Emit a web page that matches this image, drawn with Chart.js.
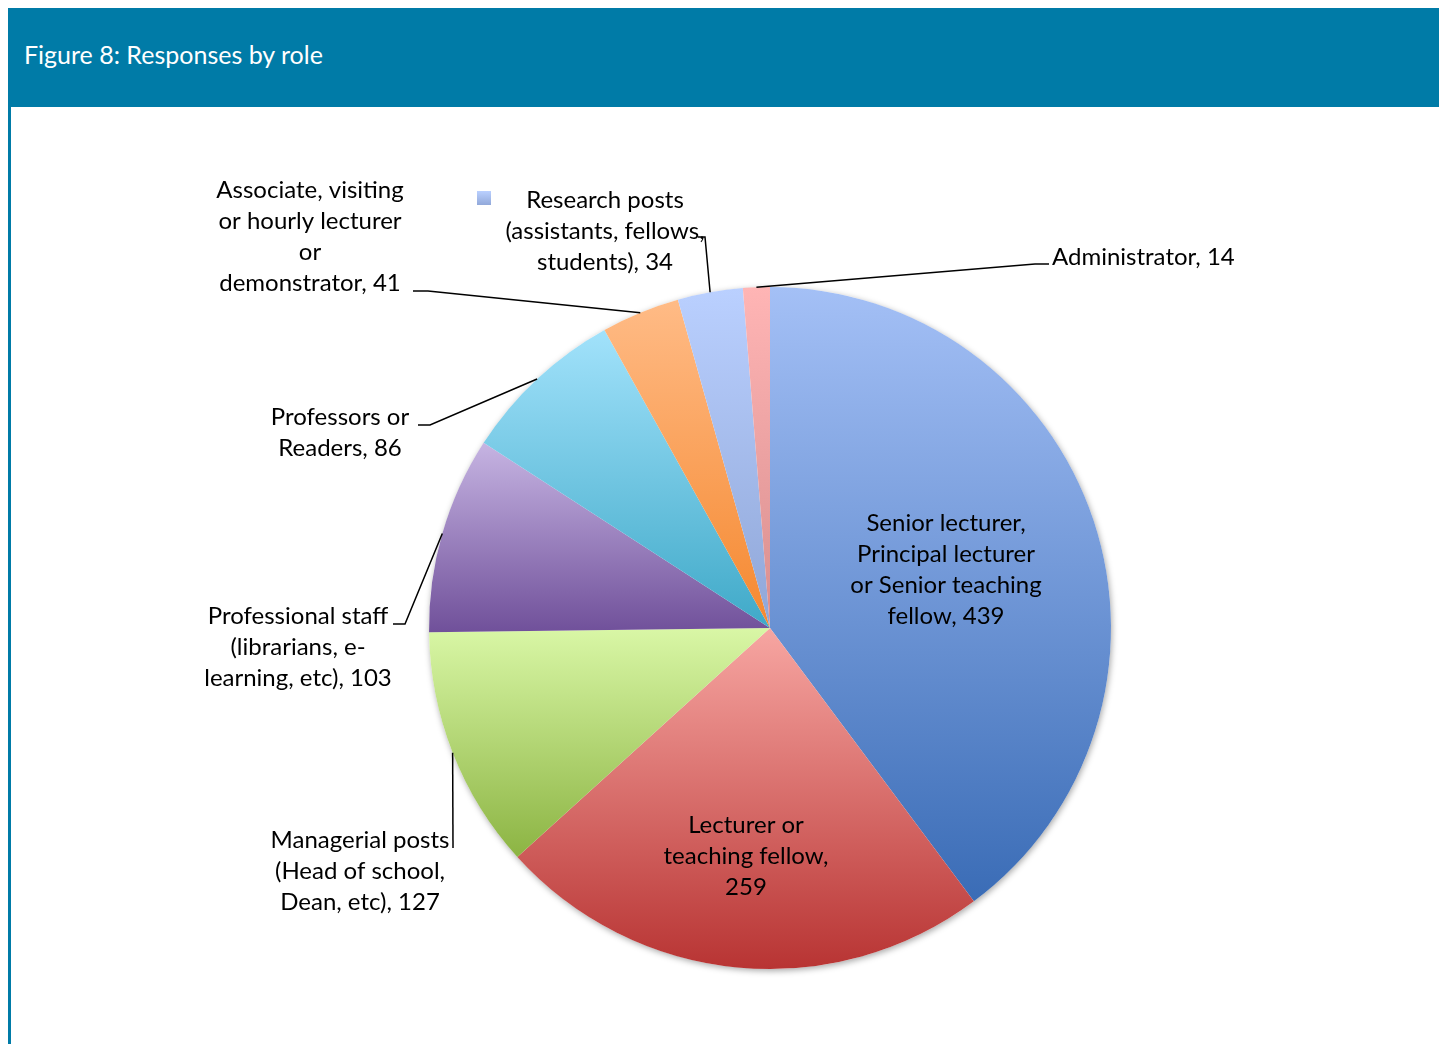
<!DOCTYPE html>
<html>
<head>
<meta charset="utf-8">
<script src="https://cdn.jsdelivr.net/npm/chart.js@4.4.1/dist/chart.umd.min.js"></script>
<style>
  body { margin: 0; background: #fff; width: 1439px; height: 1044px; overflow: hidden; position: relative; }
  #header { position: absolute; left: 8px; top: 8px; width: 1431px; height: 99px; background: #007ba7; }
  #header span { position: absolute; left: 16px; top: 31px; color: #fff; font: 25px Lato, sans-serif; }
  #edge { position: absolute; left: 8px; top: 107px; width: 3px; height: 937px; background: #007ba7; }
  #wrap { position: absolute; left: 0; top: 0; width: 1439px; height: 1044px; }
</style>
</head>
<body>
<div id="header"><span>Figure 8: Responses by role</span></div>
<div id="edge"></div>
<div id="wrap"><canvas id="pie" width="1439" height="1044"></canvas></div>
<script>
// roles, "\n" marks where the label wraps
const roles = [
  "Senior lecturer,\nPrincipal lecturer\nor Senior teaching\nfellow",
  "Lecturer or\nteaching fellow,\n",
  "Managerial posts\n(Head of school,\nDean, etc)",
  "Professional staff\n(librarians, e-\nlearning, etc)",
  "Professors or\nReaders",
  "Associate, visiting\nor hourly lecturer\nor\ndemonstrator",
  "Research posts\n(assistants, fellows,\nstudents)",
  "Administrator"
]
const responses = [439, 259, 127, 103, 86, 41, 34, 14]

const lightColors = ["#a4c0f6", "#f7a6a2", "#d9f7a6", "#c6b4e2", "#a2e2fb", "#ffbb86", "#bad0ff", "#ffb5b5"]
const darkColors  = ["#3a6cb6", "#b83433", "#8cb443", "#70509a", "#3fa9c8", "#f5882f", "#8fa6d7", "#d88e8e"]

// where each label sits: inside labels have no leader line
const labelPos = [
  { x: 946, y: 523, align: "center" },
  { x: 746, y: 825, align: "center" },
  { x: 360, y: 840, align: "center", lead: [[453, 848]] },
  { x: 298, y: 616, align: "center", lead: [[393, 624], [405, 624]] },
  { x: 340, y: 417, align: "center", lead: [[418, 425], [430, 425]] },
  { x: 310, y: 190, align: "center", lead: [[413, 291], [428, 291]] },
  { x: 605, y: 200, align: "center", lead: [[698, 237], [705, 237]] },
  { x: 1052, y: 257, align: "left", lead: [[1049, 264], [1035, 264]] }
]

function labelText(i) {
  const name = roles[i]
  return (name.endsWith("\n") ? name + responses[i] : name + ", " + responses[i]).split("\n")
}

const pieDeco = {
  id: "pieDeco",
  beforeDatasetsDraw(chart) {
    const ctx = chart.ctx
    const arcs = chart.getDatasetMeta(0).data
    const a0 = arcs[0]
    // soft shadow under the pie
    ctx.save()
    ctx.shadowColor = "rgba(0,0,0,0.35)"
    ctx.shadowBlur = 6
    ctx.shadowOffsetX = 1
    ctx.shadowOffsetY = 2
    ctx.fillStyle = "#fff"
    ctx.beginPath()
    ctx.arc(a0.x, a0.y, a0.outerRadius, 0, Math.PI * 2)
    ctx.fill()
    ctx.restore()
    // vertical gradient over each slice
    arcs.forEach((arc, i) => {
      let ymin = arc.y, ymax = arc.y
      for (let t = arc.startAngle; t <= arc.endAngle; t += 0.005) {
        const yy = arc.y + arc.outerRadius * Math.sin(t)
        ymin = Math.min(ymin, yy)
        ymax = Math.max(ymax, yy)
      }
      const yEnd = arc.y + arc.outerRadius * Math.sin(arc.endAngle)
      ymin = Math.min(ymin, yEnd); ymax = Math.max(ymax, yEnd)
      const g = ctx.createLinearGradient(0, ymin, 0, ymax)
      g.addColorStop(0, lightColors[i])
      g.addColorStop(1, darkColors[i])
      arc.options.backgroundColor = g
    })
  },
  afterDatasetsDraw(chart) {
    const ctx = chart.ctx
    const arcs = chart.getDatasetMeta(0).data
    ctx.save()
    ctx.font = "24px Lato, sans-serif"
    ctx.fillStyle = "#000"
    ctx.textBaseline = "middle"
    arcs.forEach((arc, i) => {
      const p = labelPos[i]
      const lines = labelText(i)
      ctx.textAlign = p.align
      lines.forEach((ln, k) => ctx.fillText(ln, p.x, p.y + k * 31))
      if (p.lead) {
        const mid = (arc.startAngle + arc.endAngle) / 2
        const ex = arc.x + arc.outerRadius * Math.cos(mid)
        const ey = arc.y + arc.outerRadius * Math.sin(mid)
        ctx.strokeStyle = "#000"
        ctx.lineWidth = 1.5
        ctx.beginPath()
        ctx.moveTo(p.lead[0][0], p.lead[0][1])
        p.lead.slice(1).forEach(q => ctx.lineTo(q[0], q[1]))
        ctx.lineTo(ex, ey)
        ctx.stroke()
      }
    })
    // legend key left over next to research posts
    const g = ctx.createLinearGradient(0, 191, 0, 206)
    g.addColorStop(0, lightColors[6])
    g.addColorStop(1, darkColors[6])
    ctx.fillStyle = g
    ctx.fillRect(477, 191, 14, 14)
    ctx.restore()
  }
}

new Chart(document.getElementById("pie"), {
  type: "pie",
  data: {
    labels: roles.map(r => r.replace(/\n/g, " ").trim()),
    datasets: [{
      data: responses,
      backgroundColor: lightColors,
      borderWidth: 0
    }]
  },
  options: {
    responsive: false,
    animation: false,
    layout: { padding: { left: 429, right: 328, top: 287, bottom: 75 } },
    plugins: {
      legend: { display: false },
      tooltip: { enabled: false }
    }
  },
  plugins: [pieDeco]
})
</script>
</body>
</html>
